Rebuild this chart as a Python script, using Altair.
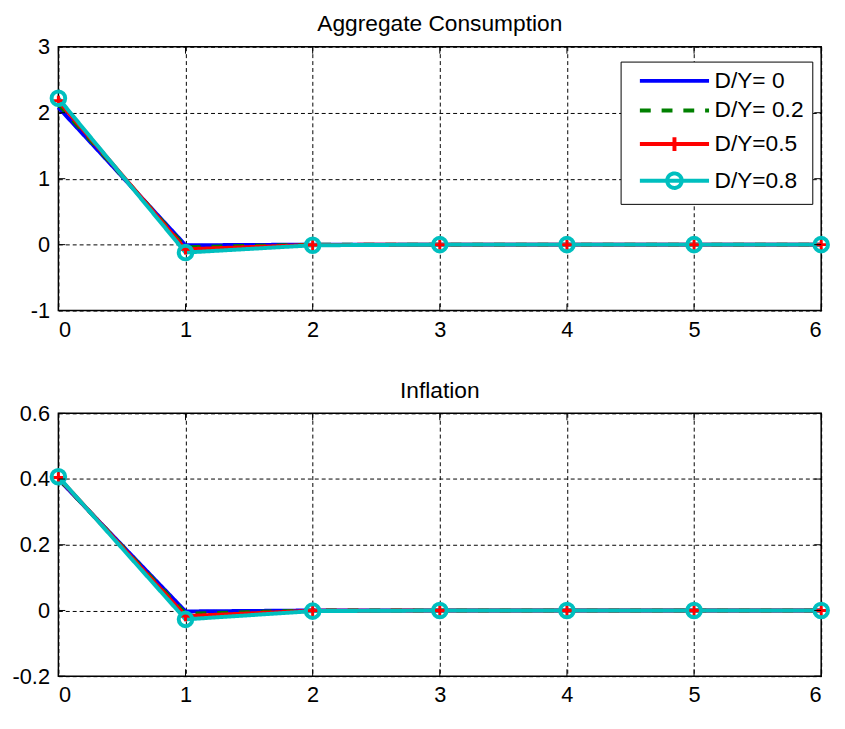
import altair as alt
import pandas as pd

steps = [0, 1, 2, 3, 4, 5, 6]
series = ["D/Y= 0", "D/Y= 0.2", "D/Y=0.5", "D/Y=0.8"]
colors = ["#0000FF", "#008000", "#FF0000", "#00BFBF"]
dashes = [[1, 0], [11, 11], [1, 0], [1, 0]]

consumption = {
    "D/Y= 0":   [2.08, -0.01, 0.0, 0.0, 0.0, 0.0, 0.0],
    "D/Y= 0.2": [2.13, -0.04, 0.0, 0.0, 0.0, 0.0, 0.0],
    "D/Y=0.5":  [2.18, -0.07, -0.005, 0.0, 0.0, 0.0, 0.0],
    "D/Y=0.8":  [2.22, -0.12, -0.01, 0.0, 0.0, 0.0, 0.0],
}
inflation = {
    "D/Y= 0":   [0.400, -0.003, 0.0, 0.0, 0.0, 0.0, 0.0],
    "D/Y= 0.2": [0.402, -0.010, 0.0, 0.0, 0.0, 0.0, 0.0],
    "D/Y=0.5":  [0.405, -0.017, -0.001, 0.0, 0.0, 0.0, 0.0],
    "D/Y=0.8":  [0.407, -0.027, -0.002, 0.0, 0.0, 0.0, 0.0],
}

cons_ticks = [-1, 0, 1, 2, 3]
infl_ticks = [-0.2, 0, 0.2, 0.4, 0.6]

FONT = "Liberation Sans"
W = 772


def long_df(d):
    rows = []
    for s in series:
        for x, v in zip(steps, d[s]):
            rows.append({"step": x, "value": v, "series": s})
    return pd.DataFrame(rows)


legend_shape = (
    "datum.value === 'D/Y=0.5' ? 'M-1,0H9M4,-1V1' : "
    "datum.value === 'D/Y=0.8' ? 'M-1,0H9M5.05,0A1.05,1.05 0 1,1 2.95,0A1.05,1.05 0 1,1 5.05,0' : "
    "'M-1,0H9'"
)


def panel(data, title, ydomain, yticks, height, show_legend, xext):
    df = long_df(data)
    xs = alt.X("step:Q", scale=alt.Scale(domain=[0, 6], nice=False),
               axis=alt.Axis(values=steps, format="d", title=None, labelAngle=0,
                             minExtent=xext, maxExtent=xext))
    ys = alt.Y("value:Q", scale=alt.Scale(domain=ydomain, nice=False, zero=False),
               axis=alt.Axis(values=yticks, title=None, labelExpr="'' + datum.value",
                             minExtent=50, maxExtent=50))
    cscale = alt.Scale(domain=series, range=colors)
    dscale = alt.Scale(domain=series, range=dashes)
    if show_legend:
        leg = alt.Legend(
            title=None, orient="none", legendX=569, legendY=15,
            fillColor="white", strokeColor="black",
            padding=8,
            symbolType={"expr": legend_shape}, symbolSize=196, symbolStrokeWidth=4,
            labelFontSize=23, labelFont=FONT, labelColor="black", labelOffset=57,
            rowPadding=6, symbolOffset=7,
        )
        color = alt.Color("series:N", scale=cscale, legend=leg)
        dash = alt.StrokeDash("series:N", scale=dscale, legend=leg)
    else:
        color = alt.Color("series:N", scale=cscale, legend=None)
        dash = alt.StrokeDash("series:N", scale=dscale, legend=None)

    base = alt.Chart(df)
    layers = []
    for s in series:
        layers.append(
            base.transform_filter(alt.datum.series == s)
            .mark_line(strokeWidth=4)
            .encode(x=xs, y=ys, color=color, strokeDash=dash)
        )
    plus = base.transform_filter(alt.datum.series == "D/Y=0.5").mark_point(
        shape="M-1,0H1M0,-1V1", size=110, strokeWidth=3, filled=False, opacity=1
    ).encode(x="step:Q", y="value:Q", color=alt.Color("series:N", scale=cscale, legend=None))
    circ = base.transform_filter(alt.datum.series == "D/Y=0.8").mark_point(
        shape="circle", size=190, strokeWidth=4, filled=False, opacity=1
    ).encode(x="step:Q", y="value:Q", color=alt.Color("series:N", scale=cscale, legend=None))

    xt = pd.DataFrame({"step": steps})
    yt = pd.DataFrame({"value": yticks})
    tb = alt.Chart(xt).mark_rule(color="black", strokeWidth=1).encode(
        x="step:Q", y=alt.value(height), y2=alt.value(height - 7))
    tt = alt.Chart(xt).mark_rule(color="black", strokeWidth=1).encode(
        x="step:Q", y=alt.value(0), y2=alt.value(7))
    tl = alt.Chart(yt).mark_rule(color="black", strokeWidth=1).encode(
        y="value:Q", x=alt.value(0), x2=alt.value(7))
    tr = alt.Chart(yt).mark_rule(color="black", strokeWidth=1).encode(
        y="value:Q", x=alt.value(W), x2=alt.value(W - 7))

    return alt.layer(*layers, plus, circ, tb, tt, tl, tr).properties(
        width=W, height=height,
        title=alt.TitleParams(title, fontSize=23, font=FONT, fontWeight="normal",
                              color="black", offset=0, anchor="middle"),
    )


top = panel(consumption, "Aggregate Consumption", [-1, 3], cons_ticks, 267, True, 32)
bottom = panel(inflation, "Inflation", [-0.2, 0.6], infl_ticks, 266, False, 30)

chart = alt.vconcat(top, bottom, spacing=36).resolve_scale(
    color="independent", strokeDash="independent", y="independent"
).properties(
    padding={"left": 0, "top": 0, "right": 0, "bottom": 0},
    background="white",
).configure_view(
    stroke="black", strokeWidth=1.5
).configure_axis(
    domain=False, ticks=False, labelFont=FONT, labelFontSize=22, labelColor="black",
    labelPadding=9, grid=True, gridColor="black", gridDash=[4, 3], gridWidth=1,
    gridOpacity=1
)

chart.save("out.html", embed_options={"renderer": "svg", "actions": False})
